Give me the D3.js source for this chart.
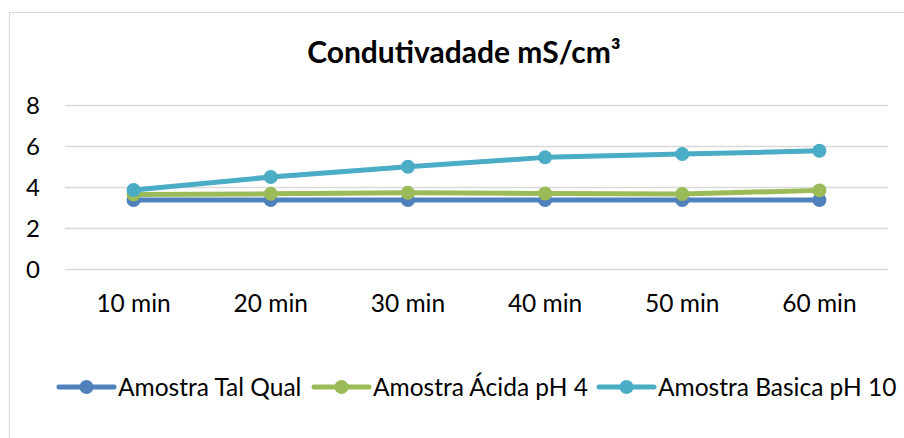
<!DOCTYPE html>
<html>
<head>
<meta charset="utf-8">
<script src="https://cdn.jsdelivr.net/npm/d3@7"></script>
<style>
  body { margin: 0; background: #fff; }
  svg { display: block; font-family: Lato, "Open Sans", sans-serif; }
</style>
</head>
<body>
<script>
const categories = ["10 min", "20 min", "30 min", "40 min", "50 min", "60 min"];
const talQual = [3.38, 3.38, 3.38, 3.38, 3.38, 3.38];
const acida = [3.65, 3.68, 3.73, 3.7, 3.67, 3.85];
const basica = [3.87, 4.5, 5.0, 5.46, 5.62, 5.78];
const yTicks = [0, 2, 4, 6, 8];

const series = [
  {name: "Amostra Tal Qual", values: talQual, color: "#4f81bd"},
  {name: "Amostra Ácida pH 4", values: acida, color: "#9bbb59"},
  {name: "Amostra Basica pH 10", values: basica, color: "#4bacc6"}
];

const W = 904, H = 438;
const svg = d3.select("body").append("svg")
  .attr("width", W)
  .attr("height", H);

// chart frame
svg.append("rect")
  .attr("x", 9.5).attr("y", 12.5)
  .attr("width", 920).attr("height", 440)
  .attr("fill", "#fff")
  .attr("stroke", "#d9d9d9");

// title
svg.append("text")
  .attr("x", 464).attr("y", 63)
  .attr("text-anchor", "middle")
  .attr("font-size", 30)
  .attr("font-weight", "bold")
  .attr("fill", "#000")
  .text("Condutivadade mS/cm³");

const x = d3.scaleBand()
  .domain(categories)
  .range([65, 888]);

const y = d3.scaleLinear()
  .domain([0, 8])
  .range([269.3, 105.3]);

// gridlines
svg.append("g")
  .selectAll("line")
  .data(yTicks)
  .join("line")
  .attr("x1", 65).attr("x2", 888)
  .attr("y1", d => Math.round(y(d)) + 0.5)
  .attr("y2", d => Math.round(y(d)) + 0.5)
  .attr("stroke", "#d9d9d9")
  .attr("stroke-width", 1.5);

// y axis labels
const yAxis = svg.append("g")
  .attr("transform", "translate(40,0)")
  .call(d3.axisLeft(y).tickValues(yTicks).tickSize(0).tickPadding(0));
yAxis.select(".domain").remove();
yAxis.selectAll("text")
  .attr("font-family", "Lato, 'Open Sans', sans-serif")
  .attr("font-size", 24)
  .attr("fill", "#000")
  .attr("x", 0)
  .attr("dy", "0.34em");

// x axis labels
const xAxis = svg.append("g")
  .call(d3.axisBottom(x).tickSize(0).tickPadding(0));
xAxis.select(".domain").remove();
xAxis.selectAll("text")
  .attr("font-family", "Lato, 'Open Sans', sans-serif")
  .attr("font-size", 24.5)
  .attr("fill", "#000")
  .attr("y", 312)
  .attr("dy", 0);

const line = d3.line()
  .x((d, i) => x(categories[i]) + x.bandwidth() / 2)
  .y(d => y(d));

const sg = svg.append("g")
  .selectAll("g")
  .data(series)
  .join("g");

sg.append("path")
  .attr("d", d => line(d.values))
  .attr("fill", "none")
  .attr("stroke", d => d.color)
  .attr("stroke-width", 5)
  .attr("stroke-linejoin", "round");

sg.selectAll("circle")
  .data(d => d.values.map((v, i) => ({v, i, color: d.color})))
  .join("circle")
  .attr("cx", d => x(categories[d.i]) + x.bandwidth() / 2)
  .attr("cy", d => y(d.v))
  .attr("r", 7)
  .attr("fill", d => d.color);

// legend
const legendX = [59, 314, 599];
const lg = svg.append("g")
  .selectAll("g")
  .data(series)
  .join("g")
  .attr("transform", (d, i) => `translate(${legendX[i]},387)`);

lg.append("line")
  .attr("x1", 0).attr("x2", 55)
  .attr("stroke", d => d.color)
  .attr("stroke-width", 5)
  .attr("stroke-linecap", "round");
lg.append("circle")
  .attr("cx", 27.5).attr("r", 7)
  .attr("fill", d => d.color);
lg.append("text")
  .attr("x", 59).attr("y", 9)
  .attr("font-size", 24.5)
  .attr("fill", "#000")
  .text(d => d.name);
</script>
</body>
</html>
